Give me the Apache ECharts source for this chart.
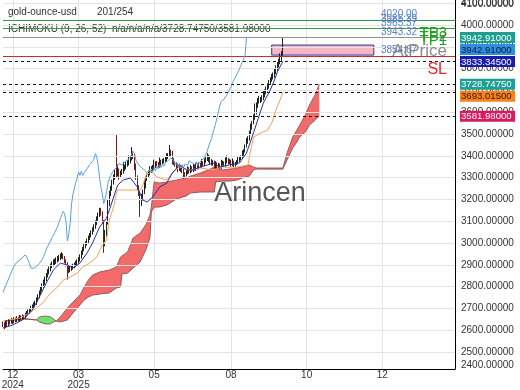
<!DOCTYPE html>
<html><head><meta charset="utf-8">
<script src="https://cdn.jsdelivr.net/npm/echarts@6/dist/echarts.min.js"></script>
<style>html,body{margin:0;padding:0;background:#fff}#c{width:520px;height:390px}</style>
</head><body><div id="c"></div>
<script>
// ---------- data ----------
const barCount = 324;                       // category slots (price + future cloud)
const tickIndex = [7, 54, 108, 163, 217, 271];
const tickLabels = ['12\n2024', '03\n2025', '05', '08', '10', '12'];
const yLabelValues = [2440, 2500, 2600, 2700, 2800, 2900, 3000, 3100, 3200, 3300, 3400, 3500, 3600, 3700, 3800, 3900, 4000, 4100];
const yLabelTexts = ['2400.00000', '2500.00000', '2600.00000', '2700.00000', '2800.00000', '2900.00000', '3000.00000', '3100.00000', '3200.00000', '3300.00000', '3400.00000', '3500.00000', '3600.00000', '3700.00000', '3800.00000', '3900.00000', '4000.00000', '4100.00000'];
const gridLevels = [2500, 2600, 2700, 2800, 2900, 3000, 3100, 3200, 3300, 3400, 3500, 3600, 3700, 3800, 3900, 4000, 4100];

const firstOpen = 2632;
const closes = [
  2626, 2618, 2632, 2625, 2640, 2636, 2645, 2638, 2650, 2644, 2655, 2648, 2660, 2652, 2663, 2658, 2670, 2676, 2684, 2690,
  2702, 2708, 2718, 2725, 2740, 2755, 2772, 2790, 2805, 2820, 2835, 2852, 2868, 2882, 2896, 2905, 2912, 2915, 2921, 2928,
  2935, 2940, 2946, 2935, 2920, 2905, 2885, 2878, 2884, 2890, 2893, 2900, 2906, 2915, 2925, 2938, 2955, 2972, 2985, 2998,
  3010, 3024, 3036, 3048, 3062, 3075, 3093, 3112, 3130, 3145, 3135, 3100, 3010, 3040, 3090, 3180, 3225, 3250, 3278, 3300,
  3325, 3310, 3330, 3310, 3322, 3330, 3340, 3348, 3360, 3368, 3375, 3385, 3410, 3395, 3355, 3300, 3255, 3225, 3180, 3205,
  3235, 3275, 3295, 3310, 3322, 3333, 3340, 3346, 3355, 3365, 3364, 3358, 3366, 3372, 3376, 3380, 3382, 3395, 3402, 3420,
  3410, 3380, 3368, 3360, 3352, 3345, 3340, 3336, 3330, 3316, 3312, 3322, 3340, 3326, 3345, 3332, 3352, 3340, 3358, 3346,
  3362, 3352, 3368, 3360, 3378, 3384, 3390, 3392, 3380, 3362, 3372, 3350, 3365, 3348, 3360, 3345, 3362, 3370, 3358, 3378,
  3382, 3368, 3376, 3360, 3372, 3355, 3365, 3370, 3380, 3387, 3392, 3408, 3422, 3445, 3463, 3478, 3505, 3527, 3550, 3576,
  3605, 3633, 3650, 3657, 3660, 3664, 3680, 3692, 3705, 3718, 3735, 3749, 3760, 3768, 3785, 3800, 3815, 3830, 3842, 3862, 3942.91
];
const lows = [
  2614, 2605, 2610, 2615, 2618, 2626, 2630, 2628, 2632, 2636, 2638, 2640, 2642, 2645, 2648, 2650, 2652, 2662, 2668, 2675,
  2682, 2694, 2700, 2706, 2716, 2730, 2746, 2762, 2778, 2795, 2808, 2825, 2842, 2856, 2870, 2885, 2892, 2898, 2904, 2910,
  2916, 2922, 2928, 2925, 2908, 2892, 2832, 2862, 2866, 2872, 2878, 2884, 2890, 2898, 2905, 2915, 2928, 2945, 2962, 2975,
  2988, 3000, 3014, 3026, 3038, 3052, 3065, 3082, 3102, 3120, 3125, 3090, 2955, 2985, 3030, 3085, 3170, 3215, 3240, 3268,
  3290, 3300, 3305, 3290, 3298, 3312, 3318, 3330, 3338, 3350, 3356, 3365, 3378, 3385, 3335, 3290, 3240, 3215, 3120, 3170,
  3195, 3225, 3250, 3285, 3300, 3310, 3322, 3330, 3335, 3345, 3352, 3345, 3345, 3355, 3360, 3365, 3370, 3375, 3385, 3395,
  3398, 3360, 3358, 3350, 3342, 3325, 3330, 3326, 3320, 3295, 3300, 3305, 3315, 3318, 3320, 3325, 3325, 3332, 3330, 3338,
  3338, 3345, 3345, 3352, 3352, 3368, 3376, 3370, 3360, 3355, 3355, 3340, 3342, 3340, 3340, 3338, 3340, 3355, 3350, 3350,
  3365, 3360, 3362, 3350, 3352, 3348, 3350, 3358, 3362, 3372, 3380, 3388, 3400, 3415, 3438, 3455, 3470, 3498, 3520, 3545,
  3565, 3590, 3620, 3640, 3642, 3648, 3655, 3668, 3682, 3695, 3708, 3725, 3740, 3750, 3758, 3775, 3790, 3805, 3820, 3832, 3855
];
const highs = [
  2640, 2636, 2642, 2645, 2650, 2648, 2656, 2652, 2660, 2658, 2664, 2662, 2670, 2668, 2672, 2670, 2680, 2688, 2695, 2702,
  2712, 2718, 2728, 2735, 2750, 2765, 2782, 2800, 2815, 2832, 2846, 2862, 2880, 2892, 2906, 2915, 2925, 2928, 2934, 2940,
  2945, 2952, 2958, 2952, 2940, 2925, 2912, 2895, 2895, 2900, 2905, 2910, 2918, 2925, 2935, 2948, 2965, 2982, 2995, 3008,
  3020, 3034, 3046, 3058, 3072, 3086, 3104, 3122, 3140, 3162, 3160, 3145, 3105, 3060, 3100, 3200, 3240, 3262, 3290, 3315,
  3338, 3500, 3360, 3342, 3332, 3340, 3372, 3360, 3372, 3380, 3402, 3398, 3440, 3420, 3412, 3365, 3310, 3265, 3235, 3225,
  3245, 3290, 3305, 3320, 3332, 3352, 3352, 3358, 3382, 3375, 3376, 3372, 3392, 3382, 3386, 3390, 3394, 3412, 3412, 3450,
  3428, 3422, 3390, 3375, 3368, 3365, 3355, 3350, 3345, 3340, 3325, 3332, 3352, 3348, 3358, 3352, 3362, 3360, 3368, 3365,
  3370, 3368, 3385, 3375, 3388, 3394, 3412, 3405, 3400, 3385, 3380, 3378, 3375, 3370, 3368, 3365, 3382, 3378, 3375, 3392,
  3402, 3390, 3385, 3382, 3388, 3378, 3372, 3380, 3395, 3398, 3402, 3425, 3430, 3452, 3482, 3490, 3515, 3548, 3560, 3590,
  3640, 3645, 3665, 3675, 3670, 3678, 3702, 3705, 3718, 3732, 3748, 3760, 3775, 3782, 3798, 3815, 3830, 3845, 3870, 3880, 3942.91
];
const chikouShift = 26;

const tenkanIdx = [0,7,14,21,26,31,36,41,46,50,55,60,64,69,74,76,80,82,86,91,96,100,103,107,112,117,121,126,131,136,141,146,150,155,162,169,174,179,182,186,191,194,196,200];
const tenkanVal = [2610,2624,2647,2693,2752,2817,2876,2908,2899,2885,2908,2954,3000,3073,3115,3151,3229,3266,3289,3298,3257,3197,3188,3211,3257,3275,3321,3358,3335,3335,3349,3358,3367,3349,3358,3367,3413,3505,3564,3642,3702,3748,3784,3833.345];

const kijunIdx = [5,12,19,24,29,34,39,43,48,53,57,62,67,71,74,76,79,81,82,98,100,103,105,110,117,121,126,134,141,150,157,164,175,177,179,184,189,192,195,198,200];
const kijunVal = [2647,2656,2679,2702,2729,2771,2798,2830,2844,2862,2890,2908,2936,2991,3014,3106,3165,3229,3243,3243,3266,3326,3335,3303,3289,3321,3349,3335,3344,3335,3349,3344,3358,3427,3486,3505,3518,3550,3610,3656,3693.015];

const preCloudIdx = [1, 8, 15];
const preCloudVal = [2642, 2647, 2652];
const greenIdx = [24, 26, 30, 34, 36, 38];
const greenUpper = [2647, 2661, 2665, 2661, 2652, 2642];
const greenLower = [2647, 2638, 2629, 2629, 2638, 2642];
const cloudIdx = [38,41,46,50,55,58,61,64,69,76,81,84,85,89,93,98,102,105,106,108,112,117,124,131,134,141,148,151,152,157,162,167,171,176,179,181,200,203,207,210,212,216,219,223,226];
const cloudUpper = [2642,2661,2702,2729,2761,2798,2830,2853,2867,2876,2890,2936,2940,2959,3023,3046,3083,3128,3165,3280,3275,3280,3289,3298,3307,3321,3339,3349,3349,3335,3339,3344,3349,3358,3349,3344,3344,3413,3486,3518,3541,3587,3633,3679,3728.7475];
const cloudLower = [2642,2638,2647,2679,2716,2739,2752,2761,2766,2771,2794,2798,2858,2862,2885,2913,2968,3023,3142,3165,3165,3174,3202,3216,3229,3234,3234,3234,3280,3284,3284,3289,3298,3307,3335,3339,3339,3381,3436,3463,3486,3509,3541,3564,3581.98];

const tpLevels = [4020.00, 3985.39];
const priceLevel = 3943.32;
const slLevel = 3854.67;
const dashedLevels = [3833.345, 3728.7475, 3693.015, 3581.98];
const zoneStartIdx = 192, zoneEndIdx = 265, zoneHigh = 3908, zoneLow = 3862;

const tagValues = [3942.91, 3942.91, 3833.345, 3728.7475, 3693.015, 3581.98];
const tagBg = ['#1f9e8e', '#2e8fe0', '#1c1caa', '#1f9e94', '#f3821f', '#d81b5c'];
const tagFg = ['#ffffff', '#0b1a33', '#ffffff', '#ffffff', '#3a1800', '#ffffff'];

const levelLabels = ['4020.00', '3985.39', '3965.37', '3943.32', '3854.67'];
const topAxisValue = 4100;

// ---------- chart ----------
const FONT = '"Liberation Sans", Arial, sans-serif';
const chart = echarts.init(document.getElementById('c'));
const categories = Array.from({length: barCount}, (_, i) => String(i));
const pairs = (idx, vals) => idx.map((x, k) => [x, vals[k]]);

const candleData = closes.map((c, i) => {
  const o = i === 0 ? firstOpen : closes[i - 1];
  return [o, c, Math.min(lows[i], o, c), Math.max(highs[i], o, c)];
});
const chikouData = closes.map((c, i) => [i - chikouShift, c]).filter(p => p[0] >= 0);
const upperLine = pairs(preCloudIdx, preCloudVal).concat(pairs(greenIdx, greenUpper), pairs(cloudIdx, cloudUpper).slice(1));
const lowerLine = pairs(preCloudIdx, preCloudVal).concat(pairs(greenIdx, greenLower), pairs(cloudIdx, cloudLower).slice(1));

const lineBase = {type: 'line', symbol: 'none', showSymbol: false, silent: true, animation: false};

chart.setOption({
  animation: false,
  grid: {left: 3, right: 65, top: 0, bottom: 21, containLabel: false, outerBoundsMode: 'none'},
  xAxis: {
    type: 'category', data: categories, boundaryGap: false,
    axisLine: {show: true, lineStyle: {color: '#000', width: 1}},
    axisTick: {show: false},
    axisLabel: {
      interval: (index) => tickIndex.includes(index),
      formatter: (value, index) => { const k = tickIndex.indexOf(index); return k >= 0 ? tickLabels[k] : ''; },
      color: '#333', fontSize: 10, fontFamily: FONT, margin: 1, lineHeight: 10
    },
    splitLine: {show: true, interval: (index) => tickIndex.includes(index), lineStyle: {color: '#e4e4e4', width: 1}}
  },
  yAxis: {
    type: 'value', position: 'right', min: 2422, max: 4114.7,
    axisLine: {show: true, lineStyle: {color: '#000', width: 1}},
    axisTick: {show: false},
    splitLine: {show: false},
    axisLabel: {
      customValues: yLabelValues,
      formatter: (v) => { const k = yLabelValues.indexOf(v); return k >= 0 ? yLabelTexts[k] : ''; },
      color: '#333', fontSize: 10, fontFamily: FONT, margin: 6
    }
  },
  series: [
    Object.assign({}, lineBase, {
      name: 'grid', z: 0, data: [[0, 3000]], lineStyle: {opacity: 0},
      markLine: {silent: true, symbol: ['none', 'none'], label: {show: false}, animation: false,
        lineStyle: {color: '#e4e4e4', width: 1, type: 'solid'},
        data: gridLevels.map(v => ({yAxis: v}))}
    }),
    {
      type: 'custom', name: 'cloud', z: 2, silent: true, animation: false,
      data: [[0, cloudUpper[0]]],
      renderItem: (params, api) => {
        const poly = (idx, up, lo) => {
          const pts = idx.map((x, k) => api.coord([x, up[k]]));
          for (let k = idx.length - 1; k >= 0; k--) pts.push(api.coord([idx[k], lo[k]]));
          return pts;
        };
        return {type: 'group', children: [
          {type: 'polygon', shape: {points: poly(cloudIdx, cloudUpper, cloudLower)}, style: {fill: '#f26a6a'}},
          {type: 'polygon', shape: {points: poly(greenIdx, greenUpper, greenLower)}, style: {fill: '#6ee46e'}}
        ]};
      }
    },
    Object.assign({}, lineBase, {name: 'spanA', z: 3, data: upperLine, lineStyle: {color: '#9a6060', width: 1}}),
    Object.assign({}, lineBase, {name: 'spanB', z: 3, data: lowerLine, lineStyle: {color: '#8c5a5a', width: 1}}),
    Object.assign({}, lineBase, {
      name: 'zone', z: 3, data: [[0, 3000]], lineStyle: {opacity: 0},
      markArea: {silent: true, animation: false,
        itemStyle: {color: '#f6b6c2', borderColor: '#3434a4', borderWidth: 1, opacity: 1},
        data: [[{coord: [zoneStartIdx, zoneHigh]}, {coord: [zoneEndIdx, zoneLow]}]]}
    }),
    {
      type: 'candlestick', name: 'price', z: 4, silent: true, animation: false, barWidth: 1,
      data: candleData,
      itemStyle: {color: '#2a5a30', color0: '#9a2a2a', borderColor: '#1a261a', borderColor0: '#6a1e1e', borderWidth: 1}
    },
    Object.assign({}, lineBase, {name: 'chikou', z: 5, data: chikouData, lineStyle: {color: '#5a9ee0', width: 1}}),
    Object.assign({}, lineBase, {name: 'kijun', z: 5, data: pairs(kijunIdx, kijunVal), lineStyle: {color: '#f2a25c', width: 1}}),
    Object.assign({}, lineBase, {name: 'tenkan', z: 6, data: pairs(tenkanIdx, tenkanVal), lineStyle: {color: '#2c2ca4', width: 1}}),
    Object.assign({}, lineBase, {
      name: 'levels', z: 7, data: [[0, 3000]], lineStyle: {opacity: 0},
      markLine: {silent: true, symbol: ['none', 'none'], label: {show: false}, animation: false,
        data: [
          ...tpLevels.map(v => ({yAxis: v, lineStyle: {color: '#3c9a3c', width: 1, type: 'solid'}})),
          {yAxis: priceLevel, lineStyle: {color: '#8e948e', width: 1, type: 'solid'}},
          {yAxis: slLevel, lineStyle: {color: '#c0303c', width: 1, type: 'solid'}},
          ...dashedLevels.map(v => ({yAxis: v, lineStyle: {color: '#111', width: 1, type: [3, 3]}}))
        ]}
    })
  ]
});

// ---------- annotations ----------
const txt = (x, y, text, font, fill, align, z) => ({
  type: 'text', x, y, z: z || 100, silent: true,
  style: {text, font, fill, align: align || 'left', verticalAlign: 'middle'}
});
const g = [];
g.push(txt(8, 12, 'gold-ounce-usd', '10px ' + FONT, '#333'));
g.push(txt(97, 12, '201/254', '10px ' + FONT, '#333'));
g.push(txt(8, 29, 'ICHIMOKU (9, 26, 52)', '10px ' + FONT, '#333', 'left', 1));
g.push(txt(112, 29, 'n/a/n/a/n/a/3728.74750/3581.98000', '10px ' + FONT, '#333', 'left', 1));
g.push(txt(381, 14, levelLabels[0], '10px ' + FONT, '#5b7fd0'));
g.push(txt(381, 19, levelLabels[1], '10px ' + FONT, '#5b7fd0'));
g.push(txt(381, 23, levelLabels[2], '10px ' + FONT, '#5b7fd0'));
g.push(txt(381, 32, levelLabels[3], '10px ' + FONT, '#5b7fd0'));
g.push(txt(381, 50, levelLabels[4], '10px ' + FONT, '#5b7fd0'));
g.push(txt(447, 33, 'TP3', '15px ' + FONT, '#22a022', 'right'));
g.push(txt(447, 37, 'TP2', '15px ' + FONT, '#22a022', 'right'));
g.push(txt(447, 41, 'TP1', '15px ' + FONT, '#22a022', 'right'));
g.push(txt(447, 51, 'AtPrice', '17px ' + FONT, 'rgba(120,120,120,0.85)', 'right'));
g.push(txt(447, 70, 'SL', '16px ' + FONT, '#e02a2a', 'right'));
g.push(txt(260, 194, 'Arincen', '27px ' + FONT, '#555', 'center', 50));
// top axis label, partly cut by the canvas edge as in the reference
g.push(txt(461, chart.convertToPixel({yAxisIndex: 0}, topAxisValue) + 1, topAxisValue.toFixed(5), '10px ' + FONT, '#333', 'left', 200));

// price tags on the right axis, pushed apart when they overlap
let prevY = -100;
tagValues.forEach((v, k) => {
  let y = chart.convertToPixel({yAxisIndex: 0}, v);
  if (y < prevY + 12) y = prevY + 12;
  prevY = y;
  g.push({type: 'rect', z: 110, silent: true, shape: {x: 460, y: y - 5.5, width: 55, height: 11}, style: {fill: tagBg[k]}});
  g.push(txt(461, y + 0.5, v.toFixed(5), '9.6px ' + FONT, tagFg[k], 'left', 111));
});
chart.setOption({graphic: g});
</script>
</body></html>
